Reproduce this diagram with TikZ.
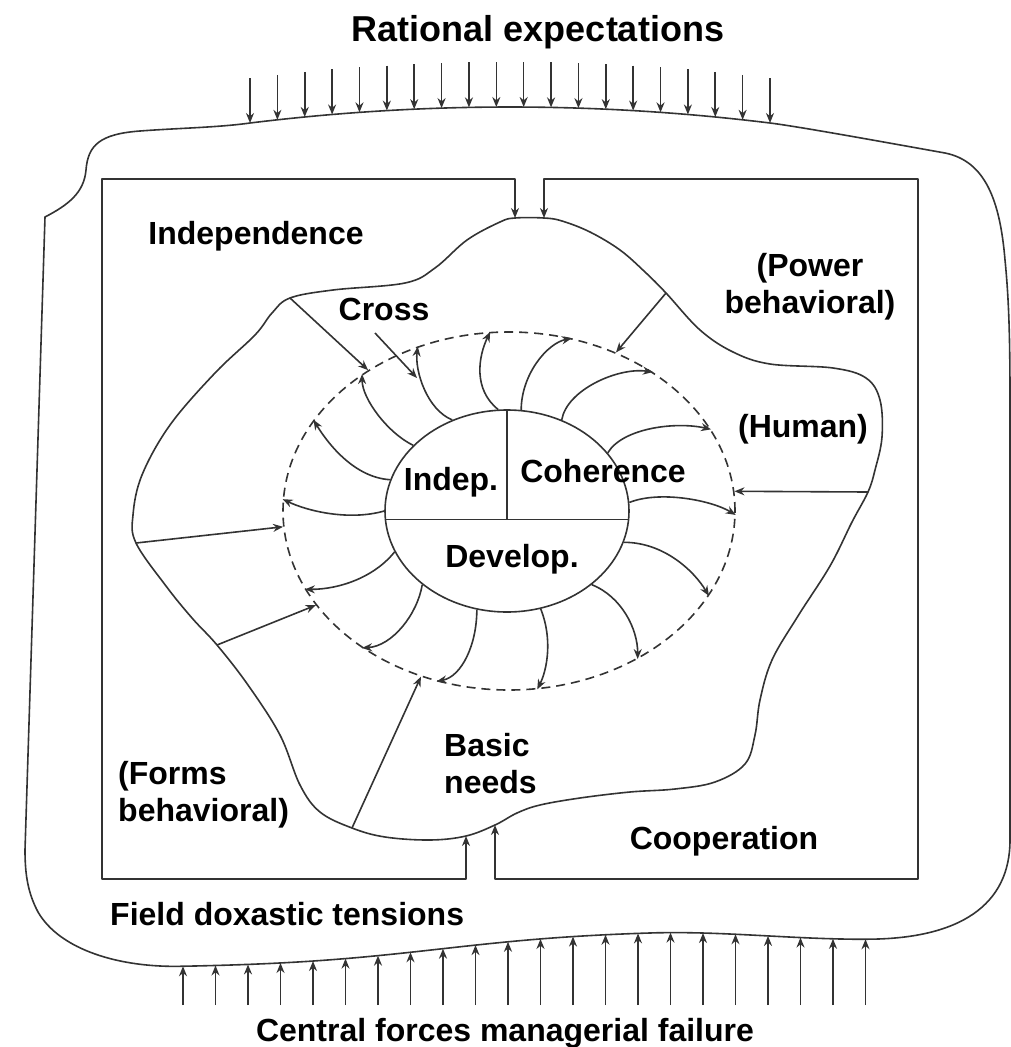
\documentclass[tikz,border=0pt]{standalone}
\usepackage{fontspec}
\setmainfont{Liberation Sans}
\usetikzlibrary{arrows.meta,shapes.geometric}
\definecolor{ink}{HTML}{333333}

\begin{document}
\begin{tikzpicture}[
  x=1pt, y=-1pt,
  >={Stealth[length=10pt,width=8pt]},
  declare function={ft(\x)=107+16*((\x-510)/260)^2;
                    sb(\x)=min(1,max(0,(\x-650)/216));
                    fb(\x)=949-19*tanh((\x-440)/170)+9*sb(\x)^2*(3-2*sb(\x));},
  lbl/.style={font=\bfseries\fontsize{32}{37}\selectfont, inner sep=0pt, anchor=base},
  ttl/.style={lbl, font=\bfseries\fontsize{36}{42}\selectfont},
  frame/.style={draw=ink, line width=1.6pt, line join=round},
  arr/.style={draw=ink, line width=1.6pt, ->},
  ring/.style={ellipse, draw=ink, line width=1.6pt, dash pattern=on 9pt off 6pt, inner sep=0pt},
  core/.style={ellipse, draw=ink, line width=1.6pt, inner sep=0pt},
]
\useasboundingbox (0,0) rectangle (1011,1047);

% -- Outer field --
\draw[frame] (45,217) .. controls (68,205) and (84,193) .. (86,170)
  .. controls (88,145) and (100,134) .. (140,131)
  .. controls (180,128) and (218,127.5) .. (250,123)
  -- plot[domain=250:770, samples=40] (\x,{ft(\x)})
  .. controls (800,126.7) and (900,145) .. (945,153)
  .. controls (985,161) and (1000,200) .. (1005,260)
  .. controls (1009,300) and (1010,340) .. (1010,400)
  -- (1010,840)
  .. controls (1010,905) and (960,939.2) .. (866,939.2)
  -- plot[domain=866:183, samples=50] (\x,{fb(\x)})
  .. controls (120,968) and (60,950) .. (38,912)
  .. controls (28,893) and (25,875) .. (25,850)
  -- cycle;

% -- Rows of forces --
\foreach \i in {0,...,19}{
  \pgfmathsetmacro\xx{250+\i*520/19}
  \pgfmathsetmacro\yy{ft(\xx)}
  \coordinate (rs\i) at (\xx,{\yy-45});
  \coordinate (re\i) at (\xx,\yy);
  \draw[arr] (rs\i) -- (re\i);
}
\foreach \i in {0,...,21}{
  \pgfmathsetmacro\xx{183+32.5*\i}
  \pgfmathsetmacro\yy{fb(\xx)}
  \coordinate (fs\i) at (\xx,1005);
  \coordinate (fe\i) at (\xx,\yy);
  \draw[arr] (fs\i) -- (fe\i);
}

% -- Inner box, open at top and bottom --
\coordinate (boxnw) at (102,179);
\coordinate (boxsw) at (102,879);
\coordinate (boxne) at (918,179);
\coordinate (boxse) at (918,879);
\coordinate (gaptl) at (515,179);
\coordinate (gaptr) at (544,179);
\coordinate (gapbl) at (466,879);
\coordinate (gapbr) at (495,879);
\coordinate (tiptl) at (515,218);
\coordinate (tiptr) at (544,218);
\coordinate (tipbl) at (466,836);
\coordinate (tipbr) at (495,825);
\draw[frame, <->] (tiptl) -- (gaptl) -- (boxnw) -- (boxsw) -- (gapbl) -- (tipbl);
\draw[frame, <->] (tiptr) -- (gaptr) -- (boxne) -- (boxse) -- (gapbr) -- (tipbr);

% -- Blob --
\coordinate (ba) at (290,298);
\coordinate (bb) at (136,543);
\coordinate (bc) at (217,645);
\coordinate (bd) at (352,828);
\coordinate (be) at (666,293);
\coordinate (bf) at (868,492);
\draw[frame] plot[smooth cycle, tension=0.6] coordinates {
  (tiptl) (tiptr) (562,221) (590,232) (620,250) (645,272) (be) (700,330) (733,352)
  (770,364) (833,368) (866,378) (880,400) (882,437) (875,470) (bf) (852,522)
  (830,566) (798,616) (772,660) (760,700) (755,735) (745,764) (715,782) (675,789)
  (630,792) (580,798) (540,805) (517,813) (tipbr) (tipbl) (430,840) (385,837) (bd)
  (320,812) (300,785) (280,735) (248,685) (bc) (192,618) (166,586) (bb) (133,515)
  (142,475) (170,425) (215,373) (255,335) (272,313) (ba) (333,290) (405,283)
  (435,268) (467,240) (500,222)};

% -- Ring and core --
\node[ring, minimum width=452pt, minimum height=358pt] (ring) at (509,511) {};
\node[core, minimum width=244pt, minimum height=202pt] (core) at (507,511) {};
\draw[frame] (core.184) -- (core.356);
\draw[frame] (core.north) -- (core.north |- core.184);

% -- Radial arrows --
\draw[arr] (core.95)  .. controls +(-25,-20) and +(-12,25) .. (ring.96);
\draw[arr] (core.121) .. controls +(-25,-10) and +(-3,25) .. (ring.119);
\draw[arr] (core.145) .. controls +(-25,-12) and +(0,25) .. (ring.137);
\draw[arr] (core.165) .. controls +(-35,-2) and +(15,25) .. (ring.155);
\draw[arr] (core.180) .. controls +(-35,10) and +(25,12) .. (ring.177);
\draw[arr] (core.200) .. controls +(-20,25) and +(35,0) .. (ring.201);
\draw[arr] (core.221) .. controls +(-5,30) and +(30,-2) .. (ring.223);
\draw[arr] (core.253) .. controls +(0,35) and +(25,-5) .. (ring.247);
\draw[arr] (core.289) .. controls +(12,30) and +(10,-20) .. (ring.279);
\draw[arr] (core.319) .. controls +(30,12) and +(0,-30) .. (ring.311);
\draw[arr] (core.345) .. controls +(40,0) and +(-15,-25) .. (ring.337);
\draw[arr] (core.4)   .. controls +(30,-12) and +(-25,-15) .. (ring.359);
\draw[arr] (core.30)  .. controls +(15,-25) and +(-35,-8) .. (ring.22);
\draw[arr] (core.59)  .. controls +(5,-30) and +(-35,-5) .. (ring.44);
\draw[arr] (core.82)  .. controls +(0,-35) and +(-25,5) .. (ring.70);

% -- Arrows from the blob --
\coordinate (crossfoot) at (375,333);
\coordinate (crosstip) at (417,378);
\draw[arr] (crossfoot) -- (crosstip);
\draw[arr] (ba) -- (ring.135);
\draw[arr] (be) -- (ring.56);
\draw[arr] (bf) -- (ring.5);
\draw[arr] (bb) -- (ring.184);
\draw[arr] (bc) -- (ring.206);
\draw[arr] (bd) -- (ring.242);

% -- Labels --
\node[ttl] (rational) at (538,41) {Rational expectations};
\node[lbl] (independence) at (256,244) {Independence};
\node[lbl] (cross) at (384,320) {Cross};
\node[lbl, align=center] (power) at (810,313) {(Power\\behavioral)};
\node[lbl] (human) at (803,437) {(Human)};
\node[lbl] (indep) at (451,490) {Indep.};
\node[lbl] (coherence) at (603,482) {Coherence};
\node[lbl] (develop) at (512,567) {Develop.};
\node[lbl, align=left, anchor=base west] (basic) at (444,793) {Basic\\needs};
\node[lbl, align=left, anchor=base west] (forms) at (118,821) {(Forms\\behavioral)};
\node[lbl] (cooperation) at (724,849) {Cooperation};
\node[lbl, anchor=base west] (field) at (110,925) {Field doxastic tensions};
\node[lbl] (central) at (505,1041) {Central forces managerial failure};

\end{tikzpicture}
\end{document}
